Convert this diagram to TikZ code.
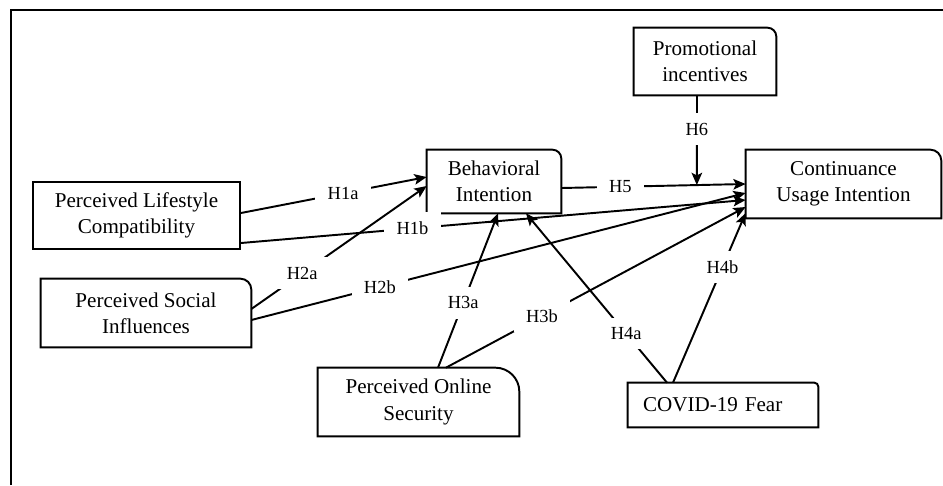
\documentclass[tikz,border=0pt]{standalone}
\usepackage{fontspec}
\setmainfont{Liberation Serif}
\usepackage{tikz}
\usetikzlibrary{arrows.meta,calc}
\newcommand{\trcorner}[2]{%
  \draw[line width=1.1pt] (#1.south west) -- (#1.north west) -- ([xshift=-#2]#1.north east)
    arc[start angle=90, end angle=0, radius=#2] -- (#1.south east) -- cycle;}

\begin{document}
\begin{tikzpicture}[
  x=0.02cm, y=-0.02cm,
  cbox/.style={align=center, inner sep=0pt, font=\fontsize{12}{15}\selectfont},
  hyp/.style={fill=white, inner xsep=7pt, inner ysep=5.5pt, font=\fontsize{10.5}{12}\selectfont},
  ar/.style={-{Stealth[length=7pt, width=6pt, inset=1.5pt]}, line width=1.1pt}
]
\useasboundingbox (0,0) rectangle (943,485);
\draw[line width=1.3pt] (11,485) -- (11,10) -- (943,10);

\node[cbox, draw, line width=1.1pt, minimum width=4.14cm, minimum height=1.34cm] (plc) at (136.5,215.5) {Perceived Lifestyle\\Compatibility};
\node[cbox, minimum width=4.2cm, minimum height=1.36cm] (psi) at (146,313) {Perceived Social\\Influences};
\node[cbox, minimum width=2.68cm, minimum height=1.26cm] (bi) at (494,181.5) {Behavioral\\Intention};
\node[cbox, minimum width=2.84cm, minimum height=1.34cm] (promo) at (705,61.5) {Promotional\\incentives};
\node[cbox, minimum width=3.9cm, minimum height=1.36cm] (cui) at (843.5,184) {Continuance\\Usage Intention};
\node[cbox, minimum width=4.02cm, minimum height=1.36cm] (pos) at (418.5,402) {Perceived Online\\Security};
\node[cbox, align=left, text width=3.2cm, inner xsep=0.3cm, minimum height=0.88cm] (cov) at (723,405) {COVID-19 Fear};

\trcorner{psi}{0.22cm}
\trcorner{bi}{0.18cm}
\trcorner{promo}{0.18cm}
\trcorner{cui}{0.22cm}
\trcorner{pos}{0.48cm}
\trcorner{cov}{0.08cm}

\draw[ar] ($(plc.east)+(0,-2.5)$) -- node[hyp, pos=0.55] {H1a} ($(bi.west)+(0,-4.5)$);
\draw[ar] ($(plc.east)+(0,27.5)$) -- node[hyp, pos=0.34] {H1b} ($(cui.west)+(0,16)$);
\draw[ar] ($(psi.east)+(0,-4)$) -- node[hyp, pos=0.29] {H2a} ($(bi.west)+(0,4.5)$);
\draw[ar] ($(psi.east)+(0,7)$) -- node[hyp, pos=0.26] {H2b} ($(cui.west)+(0,9)$);
\draw[ar] ($(pos.north)+(19.5,0)$) -- node[hyp, pos=0.42] {H3a} ($(bi.south)+(4,0)$);
\draw[ar] ($(pos.north)+(27.5,0)$) -- node[hyp, pos=0.32] {H3b} ($(cui.west)+(0,23)$);
\draw[ar] ($(cov.north)+(-56,0)$) -- node[hyp, pos=0.29] {H4a} ($(bi.south)+(32,0)$);
\draw[ar] ($(cov.north)+(-50,0)$) -- node[hyp, pos=0.68] {H4b} ($(cui.west)+(0,29)$);
\draw[ar] ($(bi.east)+(0,6.5)$) -- node[hyp, pos=0.32] {H5} coordinate[pos=0.735] (mod) (cui.west);
\draw[ar] ($(promo.south)+(-8,0)$) -- node[hyp, pos=0.375] {H6} (mod);
\end{tikzpicture}
\end{document}
